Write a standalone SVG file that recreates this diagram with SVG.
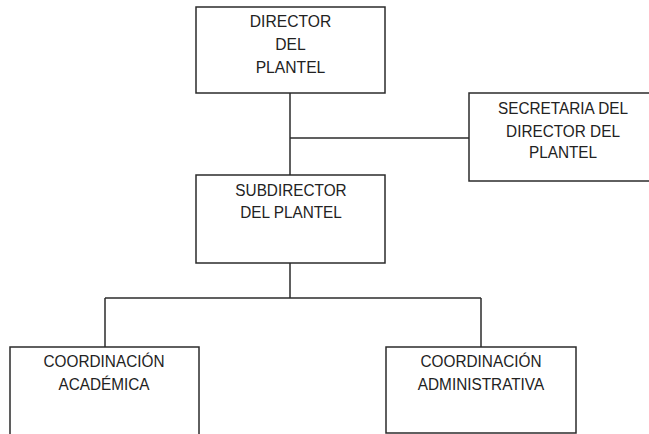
<svg xmlns="http://www.w3.org/2000/svg" width="649" height="434" viewBox="0 0 649 434">
<style>
.box{fill:#ffffff;stroke:#2b2b2b;stroke-width:1.5}
.ln{fill:none;stroke:#2b2b2b;stroke-width:1.5}
text{font-family:"Liberation Sans",Arial,sans-serif;font-size:16.5px;fill:#222;text-anchor:middle}
</style>
<rect width="649" height="434" fill="#ffffff"/>
<g id="connectors">
<path class="ln" d="M290,93 V175"/>
<path class="ln" d="M290,138 H469"/>
<path class="ln" d="M290,263 V298"/>
<path class="ln" d="M105,298 H481"/>
<path class="ln" d="M105,298 V347"/>
<path class="ln" d="M481,298 V347"/>
</g>
<g id="director">
<rect class="box" x="196" y="7" width="189" height="86"/>
<text transform="translate(290.5,27) scale(0.95,1)">DIRECTOR</text>
<text transform="translate(290.5,50) scale(0.95,1)">DEL</text>
<text transform="translate(290.5,73) scale(0.95,1)">PLANTEL</text>
</g>
<g id="secretaria">
<rect class="box" x="469" y="93" width="185" height="88"/>
<text transform="translate(563,114) scale(0.93,1)">SECRETARIA DEL</text>
<text transform="translate(563,137) scale(0.93,1)">DIRECTOR DEL</text>
<text transform="translate(563,158) scale(0.93,1)">PLANTEL</text>
</g>
<g id="subdirector">
<rect class="box" x="196" y="175" width="189" height="88"/>
<text transform="translate(291,196) scale(0.93,1)">SUBDIRECTOR</text>
<text transform="translate(291,218) scale(0.93,1)">DEL PLANTEL</text>
</g>
<g id="academica">
<rect class="box" x="10" y="347" width="189" height="95"/>
<text transform="translate(104,367) scale(0.93,1)">COORDINACIÓN</text>
<text transform="translate(104,390) scale(0.93,1)">ACADÉMICA</text>
</g>
<g id="administrativa">
<rect class="box" x="386" y="347" width="190" height="86"/>
<text transform="translate(481,367) scale(0.93,1)">COORDINACIÓN</text>
<text transform="translate(481,390) scale(0.93,1)">ADMINISTRATIVA</text>
</g>
</svg>
